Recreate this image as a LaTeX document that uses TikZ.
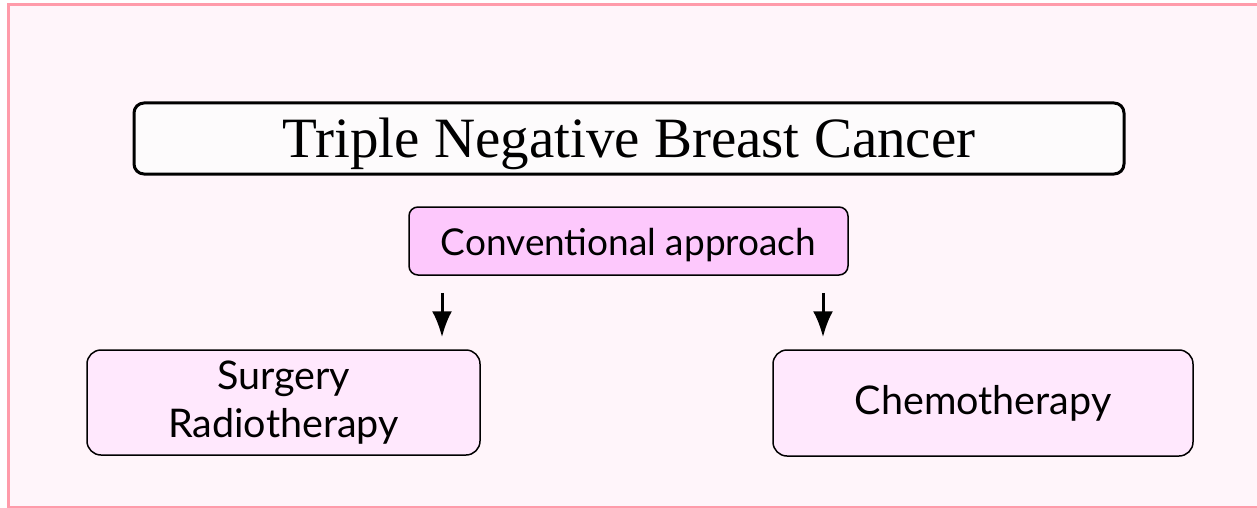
\documentclass[tikz,border=0pt]{standalone}
\usepackage{fontspec}
\setmainfont{Lato}
\newfontfamily\titlefont{Liberation Serif}
\usetikzlibrary{arrows.meta}

\definecolor{pageback}{HTML}{FFF5FA}
\definecolor{frameline}{HTML}{FF9BAA}
\definecolor{titlefill}{HTML}{FDFBFC}
\definecolor{approachfill}{HTML}{FDC8FC}
\definecolor{treatfill}{HTML}{FFE8FD}

\tikzset{
  titlebox/.style={draw=black, line width=3pt, rounded corners=10pt, fill=titlefill,
    inner sep=0pt, font=\titlefont\fontsize{57}{64}\selectfont},
  approachbox/.style={draw=black, line width=1.5pt, rounded corners=9pt, fill=approachfill,
    inner sep=0pt, font=\fontsize{37}{44}\selectfont},
  treatbox/.style={draw=black, line width=1.5pt, rounded corners=14pt, fill=treatfill,
    inner sep=0pt, align=center, font=\fontsize{39.5}{48}\selectfont},
  arr/.style={-{Latex[length=26pt,width=20pt]}, line width=3pt}
}

\begin{document}
\begin{tikzpicture}[x=1pt, y=-1pt]

  % page and frame
  \useasboundingbox (0,0) rectangle (1257,508);
  \fill[white] (0,0) rectangle (1257,508);
  \draw[frameline, line width=3pt, fill=pageback] (8.5,4.5) rectangle (1300,507.5);

  % boxes
  \node[titlebox, minimum width=990pt, minimum height=71pt] (tnbc) at (629,138.5)
    {\raisebox{-5pt}[\height][\depth]{Triple Negative Breast Cancer}};
  \node[approachbox, minimum width=439pt, minimum height=68pt] (conv) at (628.5,241)
    {\raisebox{-4pt}[\height][\depth]{Conventional approach}};
  \node[treatbox, minimum width=393pt, minimum height=105pt] (surg) at (283.5,402.5)
    {Surgery\\Radiotherapy};
  \node[treatbox, minimum width=420pt, minimum height=106pt] (chemo) at (983,403)
    {Chemotherapy};

  % arrows
  \coordinate (leftx) at (442,0);
  \coordinate (rightx) at (823,0);
  \draw[arr, shorten <=17pt, shorten >=12pt] (conv.south -| leftx) -- (surg.north -| leftx);
  \draw[arr, shorten <=17pt, shorten >=12pt] (conv.south -| rightx) -- (chemo.north -| rightx);

\end{tikzpicture}
\end{document}
